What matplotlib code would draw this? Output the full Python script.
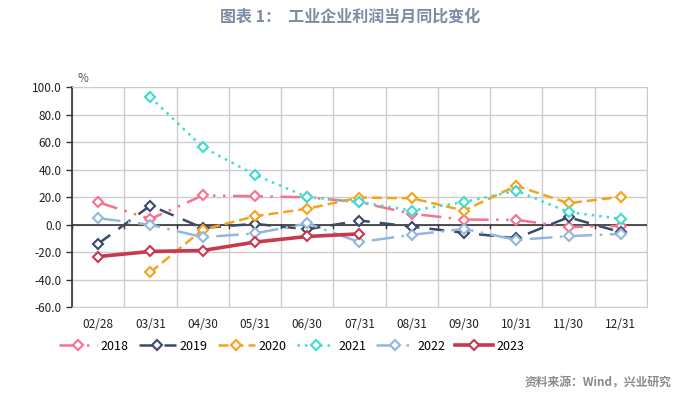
import matplotlib
matplotlib.use("Agg")
import matplotlib.pyplot as plt
import numpy as np

plt.rcParams['font.family'] = ['Noto Sans CJK SC', 'DejaVu Sans']

categories = ["02/28", "03/31", "04/30", "05/31", "06/30", "07/31", "08/31", "09/30", "10/31", "11/30", "12/31"]
s2018 = [16.2, 4.0, 21.1, 20.6, 19.8, 16.2, 7.8, 3.6, 3.4, -1.9, -1.0]
s2019 = [-14.0, 13.8, -2.5, 0.5, -3.5, 2.9, -1.5, -6.0, -10.0, 5.3, -5.6]
s2020 = [None, -34.7, -3.8, 6.0, 11.5, 19.6, 19.1, 10.1, 28.2, 15.5, 20.1]
s2021 = [None, 92.6, 56.3, 36.1, 20.0, 16.4, 10.1, 16.3, 24.6, 9.0, 4.2]
s2022 = [4.6, -0.2, -9.2, -6.5, 0.8, -12.8, -7.5, -3.2, -11.2, -8.5, -6.8]
s2023 = [-23.3, -19.6, -18.9, -12.8, -8.7, -6.8]
yticks = [100.0, 80.0, 60.0, 40.0, 20.0, 0.0, -20.0, -40.0, -60.0]

fig = plt.figure(figsize=(6.76, 3.98), dpi=100)
ax = fig.add_axes([0.1065, 0.2286, 0.8505, 0.5528])

def arr(v):
    return np.array([np.nan if x is None else x for x in v], dtype=float)

x = np.arange(len(categories))
styles = [
    ("2018", s2018, "#F4738F", (0, (8, 3, 1, 3, 1, 3)), 'D', 1.8),
    ("2019", s2019, "#3B4A6B", (0, (6, 4)), 'D', 1.8),
    ("2020", s2020, "#F5A21C", (0, (4, 2)), 'D', 1.8),
    ("2021", s2021, "#3FDCD0", (0, (1, 2)), 'D', 1.8),
    ("2022", s2022, "#93B7DE", (0, (9, 3, 1, 3)), 'D', 1.8),
    ("2023", s2023, "#C8394E", '-', 'D', 2.6),
]
for name, vals, col, ls, mk, lw in styles:
    v = arr(vals)
    ax.plot(x[:len(v)], v, color=col, linestyle=ls, linewidth=lw, marker=mk,
            markersize=5, markerfacecolor='white', markeredgecolor=col,
            markeredgewidth=1.5, label=name, zorder=3)

ax.set_xlim(-0.5, len(categories) - 0.5)
ax.set_ylim(-60, 100)
ax.set_yticks(yticks)
ax.set_yticklabels([f"{t:.1f}" for t in yticks], fontsize=8.5, color='#222222')
ax.set_xticks(x)
ax.set_xticklabels(categories, fontsize=8.5, color='#222222')
ax.tick_params(axis='x', length=0, pad=8)
ax.tick_params(axis='y', length=4, direction='out', width=1, color='#333333')
ax.set_xticks(np.arange(-0.5, len(categories), 1), minor=True)
ax.grid(True, which='minor', axis='x', color='#CCCCCC', linewidth=1)
ax.grid(True, which='major', axis='y', color='#CCCCCC', linewidth=1)
ax.tick_params(axis='x', which='minor', length=0)
ax.set_axisbelow(True)
for s in ['top', 'right', 'bottom']:
    ax.spines[s].set_color('#CCCCCC')
ax.spines['left'].set_color('#333333')
ax.spines['left'].set_linewidth(1.2)
ax.axhline(0, color='#333333', linewidth=1.2, zorder=2)
for b in np.arange(-0.5, len(categories), 1):
    ax.plot([b, b], [0, -2.5], color='#333333', linewidth=1, zorder=2)

ax.text(-0.4, 101.5, "%", fontsize=8.5, color='#555555', va='bottom', ha='left')

fig.legend(loc='center', bbox_to_anchor=(0.432, 0.13), ncol=6, frameon=False,
           fontsize=9, handlelength=3.0, columnspacing=0.8, handletextpad=0.3)

fig.text(0.518, 0.957, "图表 1：  工业企业利润当月同比变化", fontsize=11.5, fontweight='bold',
         color='#7C8BA3', ha='center', va='center')
fig.text(0.993, 0.037, "资料来源：Wind，兴业研究", fontsize=8.5, fontweight='bold',
         color='#8A8A8A', ha='right', va='center')

fig.savefig("out.png", dpi=100)
